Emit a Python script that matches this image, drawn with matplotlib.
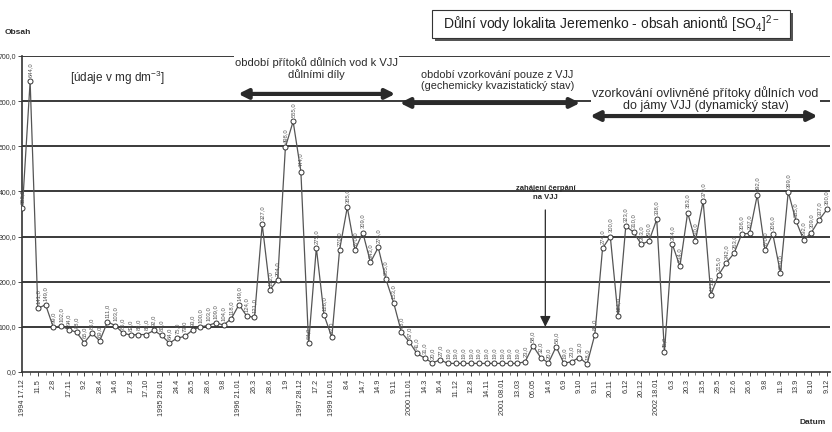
import matplotlib
matplotlib.use("Agg")
import matplotlib.pyplot as plt
from matplotlib.patches import Rectangle

plt.rcParams['font.family'] = ['Liberation Sans', 'DejaVu Sans']
plt.rcParams['mathtext.fontset'] = 'custom'
plt.rcParams['mathtext.rm'] = 'Liberation Sans'
plt.rcParams['mathtext.it'] = 'Liberation Sans'

# ---- data (SO4 content, mg/dm3), one value per sampling ----
values = [
    363, 644, 141, 149, 99, 102, 94, 88, 65, 86,
    69, 111, 103, 86, 82, 83, 83, 92, 81, 64,
    75, 79, 93, 100, 103, 109, 104, 118, 149, 124,
    121, 327, 182, 204, 498, 555, 444, 64, 275, 126,
    77, 270, 365, 270, 309, 243, 276, 205, 153, 88,
    67, 41, 31, 20, 27, 19, 19, 19, 19, 19,
    19, 19, 19, 19, 19, 23, 58, 32, 20, 56,
    19, 23, 32, 18, 83, 274, 300, 124, 323, 310,
    283, 290, 338, 45, 284, 234, 353, 290, 379, 171,
    215, 242, 263, 306, 307, 392, 270, 306, 219, 399,
    335, 292, 309, 337, 360,
]

# tick labels (every second sampling)
date_labels = [
    "1994 17.12", "11.5", "2.8", "17.11", "9.2", "28.4", "14.6", "17.8", "17.10",
    "1995 29.01", "24.4", "26.5", "28.6", "9.8", "1996 21.01", "26.3", "28.6", "1.9",
    "1997 28.12", "17.2", "1999 16.01", "8.4", "14.7", "14.9", "9.11", "2000 11.01",
    "14.3", "16.4", "11.12", "12.8", "14.11", "2001 08.01", "13.03", "06.05", "14.6",
    "6.9", "9.10", "9.11", "20.11", "6.12", "20.12", "2002 18.01", "6.3", "20.3",
    "13.5", "29.5", "12.6", "26.6", "9.8", "11.9", "13.9", "8.10", "9.12",
]

y_ticks = [0, 100, 200, 300, 400, 500, 600, 700]

W, H = 832, 432
fig = plt.figure(figsize=(W / 100, H / 100), dpi=100)
fig.patch.set_facecolor('white')

ax_l, ax_r, ax_t, ax_b = 22, 830, 56, 372
ax = fig.add_axes([ax_l / W, 1 - ax_b / H, (ax_r - ax_l) / W, (ax_b - ax_t) / H])

n = len(values)
xs = list(range(n))
ax.set_xlim(-0.05, n - 1 + 0.4)
ax.set_ylim(0, 700)

for yv in y_ticks[1:]:
    ax.axhline(yv, color='#3a3a3a', lw=1.4, zorder=1)

ax.plot(xs, values, color='#555555', lw=0.9, marker='o', markersize=3.6,
        markerfacecolor='white', markeredgecolor='#333333', markeredgewidth=0.7, zorder=3)

for x, v in zip(xs, values):
    ax.annotate(f"{v:.1f}".replace('.', ','), (x, v), xytext=(0, 3),
                textcoords='offset points', rotation=90, ha='center', va='bottom',
                fontsize=4.2, color='#555555', zorder=2)

ax.set_yticks(y_ticks)
ax.set_yticklabels([f"{t:.1f}".replace('.', ',') for t in y_ticks], fontsize=5, color='#333333')
ax.set_xticks(list(range(0, n, 2)))
ax.set_xticklabels(date_labels, rotation=90, fontsize=5.2, color='#333333')
ax.set_xticks(xs, minor=True)
ax.tick_params(axis='x', which='major', length=3, width=0.7, color='#444444', pad=2)
ax.tick_params(axis='x', which='minor', length=2, width=0.5, color='#444444')
ax.tick_params(axis='y', length=3, width=0.7, color='#444444', pad=1)
for s in ['top', 'right']:
    ax.spines[s].set_visible(False)
for s in ['left', 'bottom']:
    ax.spines[s].set_color('#333333')
    ax.spines[s].set_linewidth(1.2)

# ---- annotations ----
tc = '#2a2a2a'
bb = dict(facecolor='white', edgecolor='none', pad=1)
ax.text(12.3, 651, "[údaje v mg dm$^{-3}$]", fontsize=8.5, color=tc, ha='center', va='center')
ax.text(38.0, 672, "období přítoků důlních vod k VJJ\ndůlními díly", fontsize=8, color=tc,
        ha='center', va='center', linespacing=1.1, bbox=bb, zorder=4)
ax.text(61.4, 645, "období vzorkování pouze z VJJ\n(gechemicky kvazistatický stav)", fontsize=7.8,
        color=tc, ha='center', va='center', linespacing=1.1, bbox=bb, zorder=4)
ax.text(88.3, 604, "vzorkování ovlivněné přítoky důlních vod\ndo jámy VJJ (dynamický stav)",
        fontsize=9, color=tc, ha='center', va='center', linespacing=1.0, bbox=bb, zorder=4)

arr = dict(arrowstyle='<|-|>', color='#2a2a2a', lw=3, mutation_scale=14, shrinkA=0, shrinkB=0)
ax.annotate('', xy=(48.2, 616), xytext=(27.9, 616), arrowprops=arr, zorder=5)
ax.annotate('', xy=(72.1, 596), xytext=(48.8, 596), arrowprops=arr, zorder=5)
ax.annotate('', xy=(102.8, 567), xytext=(73.4, 567), arrowprops=arr, zorder=5)

ax.text(67.6, 396, "zahájení čerpání\nna VJJ", fontsize=5.5, fontweight='bold', color=tc,
        ha='center', va='center', linespacing=1.3, zorder=4)
ax.annotate('', xy=(67.6, 100), xytext=(67.6, 359),
            arrowprops=dict(arrowstyle='-|>', color='#2a2a2a', lw=0.9, mutation_scale=16,
                            shrinkA=0, shrinkB=0), zorder=5)

fig.text(5 / W, 1 - 33 / H, "Obsah", fontsize=6, fontweight='bold', color=tc, ha='left', va='center')
fig.text(800 / W, 1 - 423 / H, "Datum", fontsize=6, fontweight='bold', color=tc, ha='left', va='center')

# title box with shadow
fig.patches.append(Rectangle((435 / W, 1 - 41 / H), 358 / W, 28 / H, transform=fig.transFigure,
                             facecolor='#555555', edgecolor='none', zorder=5))
fig.patches.append(Rectangle((432 / W, 1 - 38 / H), 358 / W, 28 / H, transform=fig.transFigure,
                             facecolor='white', edgecolor='#333333', lw=0.8, zorder=6))
fig.text(611 / W, 1 - 24 / H, "Důlní vody lokalita Jeremenko - obsah aniontů [SO$_4$]$^{2-}$",
         fontsize=10, color='#222222', ha='center', va='center', zorder=7)

fig.savefig('out.png', dpi=100, facecolor='white')
